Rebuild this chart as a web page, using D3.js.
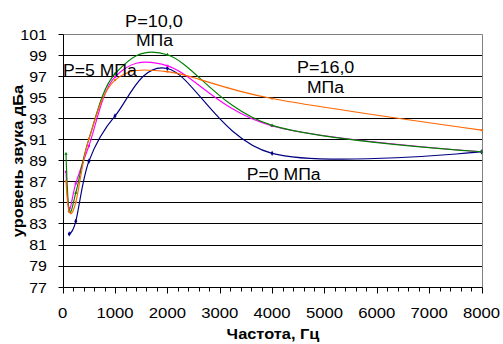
<!DOCTYPE html>
<html>
<head>
<meta charset="utf-8">
<script src="https://cdn.jsdelivr.net/npm/d3@7"></script>
<style>
	body { margin:0; background:#fff; }
	text { font-family: "Liberation Sans", Arial, sans-serif; fill:#000; }
</style>
</head>
<body>
<div id="idChart"></div>
<script>
// octave band centre frequencies, Hz
var aFreq=[63,125,250,500,1000,2000,4000,8000];

// sound level, dBA, per pressure
var aP0=[null,82.0,83.2,88.9,93.2,97.7,89.65,89.8];
var aP5=[87.9,84.4,86.8,90.35,96.9,97.95,92.25,89.8];
var aP10=[89.6,84.2,85.9,91.0,97.2,99.0,92.3,89.8];
var aP16=[87.0,84.1,85.0,91.0,96.6,97.4,94.85,91.85];

var aXTicks=[0,1000,2000,3000,4000,5000,6000,7000,8000];
var aYTicks=[77,79,81,83,85,87,89,91,93,95,97,99,101];

var iWidth=503;
var iHeight=344;

var mySeries=[
	{sName:"P=0",   aVal:aP0,  sColor:"#000080", oSymbol:d3.symbolDiamond, iSize:8},
	{sName:"P=5",   aVal:aP5,  sColor:"#ff00ff", oSymbol:d3.symbolSquare,  iSize:5},
	{sName:"P=10",  aVal:aP10, sColor:"#008000", oSymbol:d3.symbolTriangle,iSize:5},
	{sName:"P=16",  aVal:aP16, sColor:"#ff6600", oSymbol:d3.symbolSquare,  iSize:4}
];

var myCanvas=d3.select("#idChart").append("svg")
	.attr("width",iWidth)
	.attr("height",iHeight);

myCanvas.append("rect").attr("width",iWidth).attr("height",iHeight).attr("fill","#fff");

var xAxes=d3.scaleLinear().domain([0,8000]).range([62.7,481.5]);
var yAxes=d3.scaleLinear().domain([77,101]).range([286.7,33.7]);

function px(v) { return Math.round(v)+0.5; }

// stretched text, the source chart has wide glyphs
function addText(myG,sText,x,y,iSize,sAnchor,fStretch,bBold)
{
	var myText=myG.append("text")
		.attr("x",x)
		.attr("y",y)
		.attr("font-size",iSize)
		.attr("text-anchor",sAnchor)
		.attr("font-weight",bBold?"bold":"normal")
		.text(sText);
	var fLen=myText.node().getComputedTextLength();
	myText.attr("textLength",fLen*fStretch).attr("lengthAdjust","spacingAndGlyphs");
	return myText;
}

var myGrid=myCanvas.append("g");

// horizontal grid lines
myGrid.selectAll(".gridLine")
	.data(aYTicks.filter(function(v){return v>77 && v<101;}))
	.enter().append("line")
	.attr("class","gridLine")
	.attr("x1",px(xAxes(0)))
	.attr("x2",px(xAxes(8000)))
	.attr("y1",function(v){return px(yAxes(v));})
	.attr("y2",function(v){return px(yAxes(v));})
	.attr("stroke","#000")
	.attr("stroke-width",1);

// plot frame top / right in grey
myGrid.append("line")
	.attr("x1",px(xAxes(0))).attr("x2",px(xAxes(8000)))
	.attr("y1",px(yAxes(101))).attr("y2",px(yAxes(101)))
	.attr("stroke","#808080");
myGrid.append("line")
	.attr("x1",px(xAxes(8000))).attr("x2",px(xAxes(8000)))
	.attr("y1",px(yAxes(101))).attr("y2",px(yAxes(77)))
	.attr("stroke","#808080");

// axes lines
myGrid.append("line")
	.attr("x1",px(xAxes(0))).attr("x2",px(xAxes(0)))
	.attr("y1",px(yAxes(101))).attr("y2",px(yAxes(77)))
	.attr("stroke","#000");
myGrid.append("line")
	.attr("x1",px(xAxes(0))).attr("x2",px(xAxes(8000)))
	.attr("y1",px(yAxes(77))).attr("y2",px(yAxes(77)))
	.attr("stroke","#000");

// y ticks + labels
aYTicks.forEach(function(v){
	var y=px(yAxes(v));
	myGrid.append("line")
		.attr("x1",px(xAxes(0))-5).attr("x2",px(xAxes(0)))
		.attr("y1",y).attr("y2",y)
		.attr("stroke","#000");
	addText(myGrid,String(v),47,yAxes(v)+5.8,14.5,"end",1.1,false);
});

// x ticks, minor every 200
d3.range(0,8001,200).forEach(function(f){
	var x=px(xAxes(f));
	var bMajor=(f%1000==0);
	myGrid.append("line")
		.attr("x1",x).attr("x2",x)
		.attr("y1",px(yAxes(77))).attr("y2",px(yAxes(77))+(bMajor?6:4))
		.attr("stroke","#000");
});
aXTicks.forEach(function(f){
	addText(myGrid,String(f),xAxes(f),318,14.5,"middle",1.15,false);
});

// axis titles
addText(myCanvas,"Частота, Гц",273,339,14,"middle",1.17,true);
var myYTitle=myCanvas.append("g").attr("transform","translate(22.5,161) rotate(-90)");
addText(myYTitle,"уровень звука дБа",0,0,14,"middle",1.17,true);

// curves
var myLine=d3.line()
	.defined(function(d){return d[1]!=null;})
	.x(function(d){return xAxes(d[0]);})
	.y(function(d){return yAxes(d[1]);})
	.curve(d3.curveCardinal.tension(0));

var myPlot=myCanvas.append("g");

mySeries.forEach(function(mySer){
	var aPts=aFreq.map(function(f,i){return [f,mySer.aVal[i]];}).filter(function(d){return d[1]!=null;});
	myPlot.append("path")
		.attr("d",myLine(aPts))
		.attr("fill","none")
		.attr("stroke",mySer.sColor)
		.attr("stroke-width",1.15);
	myPlot.selectAll(null)
		.data(aPts)
		.enter().append("path")
		.attr("d",d3.symbol().type(mySer.oSymbol).size(mySer.iSize))
		.attr("transform",function(d){return "translate("+xAxes(d[0])+","+yAxes(d[1])+")";})
		.attr("fill",mySer.sColor);
});

// series labels
var myLabels=myCanvas.append("g");
addText(myLabels,"P=10,0",154,26.7,16,"middle",1.13,false);
addText(myLabels,"МПа",154.5,46,16,"middle",1.1,false);
addText(myLabels,"P=5 МПа",63,76,16,"start",1.1,false);
addText(myLabels,"P=16,0",325.7,72.5,16,"middle",1.12,false);
addText(myLabels,"МПа",325.5,93,16,"middle",1.1,false);
addText(myLabels,"P=0 МПа",283.7,180,16,"middle",1.1,false);
</script>
</body>
</html>
